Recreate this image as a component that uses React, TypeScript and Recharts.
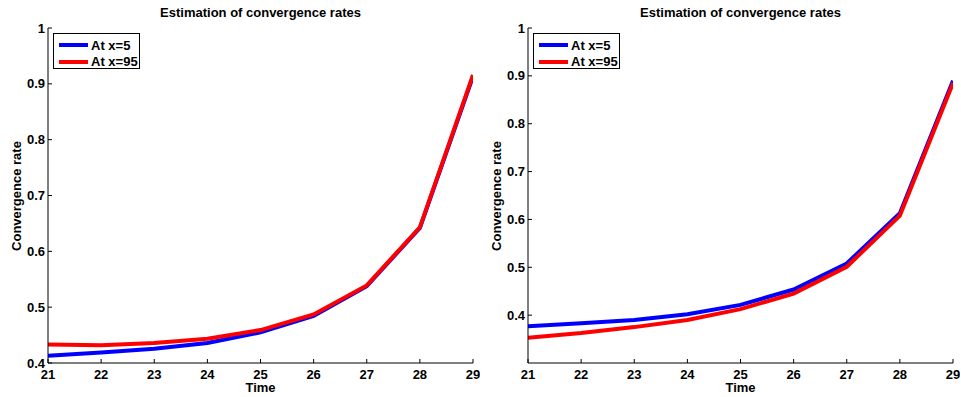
import React from 'react';
import { LineChart, Line, XAxis, YAxis } from 'recharts';

// time steps on the x axis
const times = [21, 22, 23, 24, 25, 26, 27, 28, 29];

// left panel
const leftAt5 = [0.413, 0.419, 0.4255, 0.436, 0.455, 0.4845, 0.5375, 0.642, 0.913];
const leftAt95 = [0.433, 0.432, 0.4357, 0.4434, 0.459, 0.487, 0.539, 0.643, 0.916];

// right panel
const rightAt5 = [0.377, 0.383, 0.39, 0.402, 0.4215, 0.4535, 0.508, 0.613, 0.89];
const rightAt95 = [0.353, 0.3625, 0.375, 0.39, 0.4125, 0.445, 0.501, 0.608, 0.885];

const xTicks = [21, 22, 23, 24, 25, 26, 27, 28, 29];
const leftYTicks = [0.4, 0.5, 0.6, 0.7, 0.8, 0.9, 1];
const rightYTicks = [0.4, 0.5, 0.6, 0.7, 0.8, 0.9, 1];

const seriesNames = ['At x=5', 'At x=95'];
const seriesColors = ['#0000ff', '#ff0000'];

const FONT = '"Liberation Sans", Arial, Helvetica, sans-serif';
const TICK_LEN = 4;

const BottomTick = ({ x, y, payload }: any) => (
  <g>
    <line x1={x} y1={y} x2={x} y2={y - TICK_LEN} stroke="#000" />
    <text x={x} y={y + 11} textAnchor="middle" dominantBaseline="central"
      fontFamily={FONT} fontWeight="bold" fontSize={13} fill="#000">
      {payload.value}
    </text>
  </g>
);

const LeftTick = ({ x, y, payload }: any) => (
  <g>
    <line x1={x} y1={y} x2={x + TICK_LEN} y2={y} stroke="#000" />
    <text x={x - 3} y={y} textAnchor="end" dominantBaseline="central"
      fontFamily={FONT} fontWeight="bold" fontSize={13} fill="#000">
      {payload.value}
    </text>
  </g>
);

const TopTick = ({ x, y }: any) => (
  <line x1={x} y1={y} x2={x} y2={y + TICK_LEN} stroke="#000" />
);

const RightTick = ({ x, y }: any) => (
  <line x1={x} y1={y} x2={x - TICK_LEN} y2={y} stroke="#000" />
);

interface PanelProps {
  left: number;
  at5: number[];
  at95: number[];
  yDomain: [number, number];
  yTicks: number[];
}

const Panel: React.FC<PanelProps> = ({ left, at5, at95, yDomain, yTicks }) => {
  const data = times.map((t, i) => ({ t, a: at5[i], b: at95[i] }));
  return (
    <div style={{ position: 'absolute', left, top: 0, width: 480, height: 397 }}>
      <LineChart width={480} height={397} data={data}
        margin={{ top: 28, right: 7, bottom: 0, left: 0 }}>
        <XAxis dataKey="t" type="number" domain={[21, 29]} ticks={xTicks}
          allowDataOverflow height={34} tickSize={0} tickMargin={0}
          tick={<BottomTick />} axisLine={{ stroke: '#000' }} tickLine={false}
          interval={0}
          label={{ value: 'Time', position: 'insideBottom', offset: 5,
            style: { fontFamily: FONT, fontWeight: 'bold', fontSize: 13, fill: '#000' } }} />
        <XAxis xAxisId="top" orientation="top" type="number" domain={[21, 29]}
          ticks={xTicks} allowDataOverflow height={0} tickSize={0} tickMargin={0}
          tick={<TopTick />} axisLine={{ stroke: '#000' }} tickLine={false} interval={0} />
        <YAxis type="number" domain={yDomain} ticks={yTicks} allowDataOverflow
          width={48} tickSize={0} tickMargin={0} tick={<LeftTick />}
          axisLine={{ stroke: '#000' }} tickLine={false} interval={0} />
        <YAxis yAxisId="right" orientation="right" type="number" domain={yDomain}
          ticks={yTicks} allowDataOverflow width={0} tickSize={0} tickMargin={0}
          tick={<RightTick />} axisLine={{ stroke: '#000' }} tickLine={false} interval={0} />
        <Line type="linear" dataKey="a" stroke={seriesColors[0]} strokeWidth={4}
          dot={false} isAnimationActive={false} />
        <Line type="linear" dataKey="b" stroke={seriesColors[1]} strokeWidth={4}
          dot={false} isAnimationActive={false} />
      </LineChart>

      <div style={{
        position: 'absolute', left: 48, top: 5, width: 425, textAlign: 'center',
        fontFamily: FONT, fontWeight: 'bold', fontSize: 13, lineHeight: '15px',
      }}>
        Estimation of convergence rates
      </div>

      <div style={{
        position: 'absolute', left: 16, top: 196, whiteSpace: 'nowrap',
        transform: 'translate(-50%, -50%) rotate(-90deg)',
        fontFamily: FONT, fontWeight: 'bold', fontSize: 13, lineHeight: '15px',
      }}>
        Convergence rate
      </div>

      <div style={{
        position: 'absolute', left: 53, top: 33, width: 87, height: 36,
        boxSizing: 'border-box', border: '1px solid #000', background: '#fff',
        fontFamily: FONT, fontWeight: 'bold', fontSize: 13,
      }}>
        {seriesNames.map((name, i) => (
          <div key={name} style={{
            position: 'absolute', left: 5, top: 3 + i * 16.5, height: 16,
            display: 'flex', alignItems: 'center', whiteSpace: 'nowrap',
          }}>
            <span style={{ display: 'inline-block', width: 29, height: 4,
              background: seriesColors[i], marginRight: 3 }} />
            {name}
          </div>
        ))}
      </div>
    </div>
  );
};

export default function App() {
  return (
    <div style={{ position: 'absolute', left: 0, top: 0, width: 961, height: 397, background: '#fff' }}>
      <Panel left={0} at5={leftAt5} at95={leftAt95} yDomain={[0.4, 1]} yTicks={leftYTicks} />
      <Panel left={480} at5={rightAt5} at95={rightAt95} yDomain={[0.3, 1]} yTicks={rightYTicks} />
    </div>
  );
}
